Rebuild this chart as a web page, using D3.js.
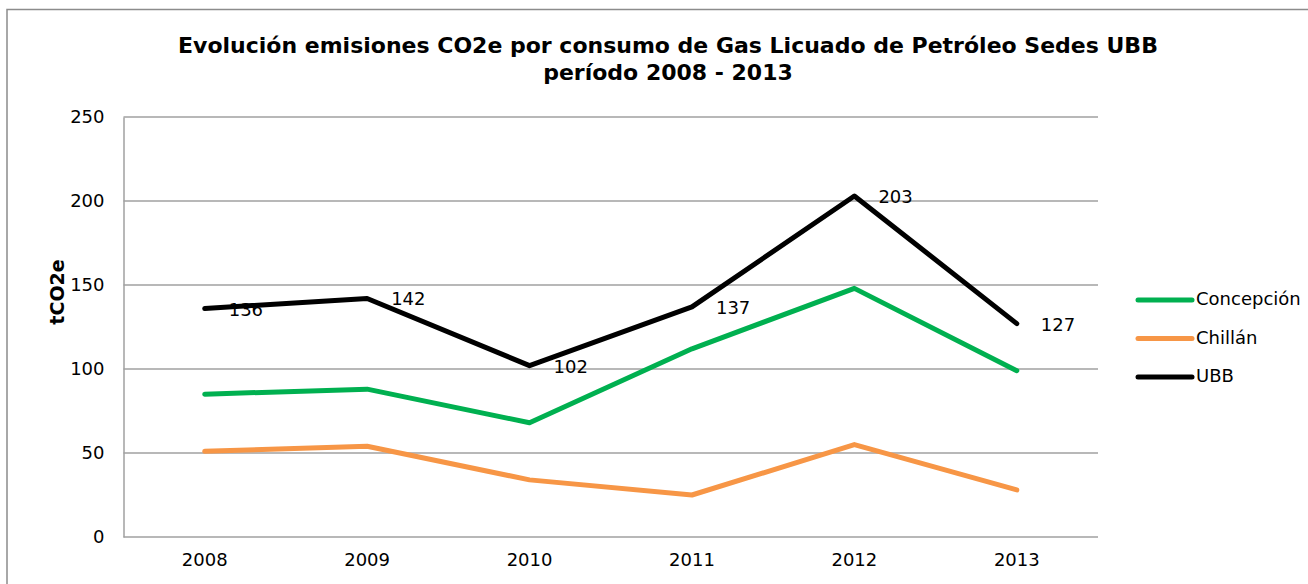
<!DOCTYPE html>
<html>
<head>
<meta charset="utf-8">
<script src="https://cdn.jsdelivr.net/npm/d3@7"></script>
<style>
  body{margin:0;background:#fff;}
  text{font-family:"DejaVu Sans",Verdana,sans-serif;}
</style>
</head>
<body>
<svg width="1308" height="584"></svg>
<script>
// datos
const years=['2008','2009','2010','2011','2012','2013']
const concepcion=[85,88,68,112,148,99]
const chillan=[51,54,34,25,55,28]
const ubb=[136,142,102,137,203,127]
const yTicks=[0,50,100,150,200,250]

const svg=d3.select('svg')
const margin={left:123.5,right:210,top:117,bottom:47}
const width=+svg.attr('width')
const height=+svg.attr('height')
const fs=18

// marco exterior
svg.append('rect')
  .attr('x',7).attr('y',9.5)
  .attr('width',1400).attr('height',700)
  .attr('fill','none').attr('stroke','#8c8c8c').attr('stroke-width',1.5)

const x=d3.scaleBand().domain(years).range([margin.left,width-margin.right])
const y=d3.scaleLinear().domain([0,250]).range([height-margin.bottom,margin.top])

// grilla
svg.append('g').selectAll('line').data(yTicks).join('line')
  .attr('x1',margin.left).attr('x2',width-margin.right)
  .attr('y1',d=>y(d)).attr('y2',d=>y(d))
  .attr('stroke','#a0a0a0').attr('stroke-width',1.5)

// eje y
const yAxis=svg.append('g').attr('transform',`translate(${margin.left},0)`)
  .call(d3.axisLeft(y).tickValues(yTicks).tickSize(0).tickPadding(19))
yAxis.select('.domain').attr('stroke','#a0a0a0').attr('stroke-width',1.5)
yAxis.selectAll('text').attr('font-size',fs).attr('fill','#000')
  .attr('font-family','"DejaVu Sans",Verdana,sans-serif')

// eje x
const xAxis=svg.append('g').attr('transform',`translate(0,${y(0)})`)
  .call(d3.axisBottom(x).tickSize(0).tickPadding(16))
xAxis.select('.domain').remove()
xAxis.selectAll('text').attr('font-size',fs).attr('fill','#000')
  .attr('font-family','"DejaVu Sans",Verdana,sans-serif')

const series=[
  {name:'Concepción',values:concepcion,color:'#00b050',labels:false},
  {name:'Chillán',values:chillan,color:'#f79646',labels:false},
  {name:'UBB',values:ubb,color:'#000000',labels:true}
]

const line=d3.line()
  .x((d,i)=>x(years[i])+x.bandwidth()/2)
  .y(d=>y(d))

series.forEach(s=>{
  svg.append('path')
    .attr('d',line(s.values))
    .attr('fill','none')
    .attr('stroke',s.color)
    .attr('stroke-width',5)
    .attr('stroke-linejoin','round')
    .attr('stroke-linecap','round')
  if(s.labels){
    svg.append('g').selectAll('text').data(s.values).join('text')
      .attr('x',(d,i)=>x(years[i])+x.bandwidth()/2+24)
      .attr('y',d=>y(d)+2)
      .attr('dominant-baseline','middle')
      .attr('font-size',fs)
      .text(d=>d)
  }
})

// leyenda
const legend=svg.append('g').attr('transform','translate(1138,300)')
series.forEach((s,i)=>{
  const g=legend.append('g').attr('transform',`translate(0,${i*38.5})`)
  g.append('line').attr('x1',0).attr('x2',54).attr('y1',0).attr('y2',0)
    .attr('stroke',s.color).attr('stroke-width',5).attr('stroke-linecap','round')
  g.append('text').attr('x',58).attr('y',0).attr('dominant-baseline','middle')
    .attr('font-size',fs).text(s.name)
})

// titulo
const title=svg.append('text').attr('x',668).attr('y',53)
  .attr('text-anchor','middle').attr('font-size',22).attr('font-weight','bold')
title.append('tspan').attr('x',668).text('Evolución emisiones CO2e por consumo de Gas Licuado de Petróleo Sedes UBB')
title.append('tspan').attr('x',668).attr('dy',27).text('período 2008 - 2013')

// titulo eje y
svg.append('text')
  .attr('transform','translate(64,292) rotate(-90)')
  .attr('text-anchor','middle').attr('font-size',19).attr('font-weight','bold')
  .text('tCO2e')
</script>
</body>
</html>
